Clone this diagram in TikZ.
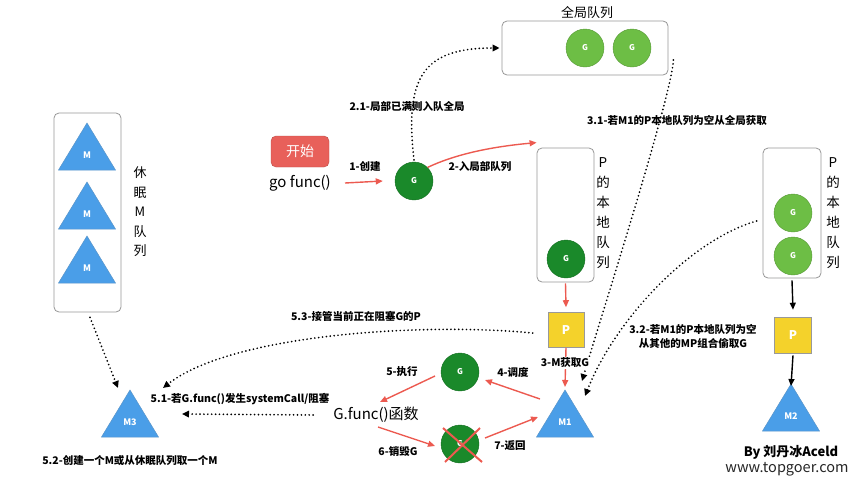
\documentclass[tikz,border=0pt]{standalone}
\usepackage{fontspec}
\setmainfont{Noto Sans CJK SC}
\usetikzlibrary{arrows.meta,calc}
\definecolor{dkgreen}{RGB}{26,137,42}
\definecolor{ltgreen}{RGB}{109,190,69}
\definecolor{triblue}{RGB}{74,158,232}
\definecolor{startred}{RGB}{232,96,90}
\definecolor{arrred}{RGB}{236,90,80}
\definecolor{pyellow}{RGB}{244,210,43}
\definecolor{boxgray}{RGB}{150,150,150}
\newcommand\mtri[4]{%
  \fill[triblue,draw=triblue!70!gray,line width=0.5pt] (#2-28.5,#3+47) -- (#2,#3) -- (#2+28.5,#3+47) -- cycle;
  \node[mlabel] (#1) at (#2,#3+32) {#4};}
\begin{document}
\begin{tikzpicture}[x=1pt,y=-1pt,
  qbox/.style={draw=boxgray,line width=0.8pt,rounded corners=5pt,inner sep=0pt},
  gdark/.style={circle,fill=dkgreen,draw=dkgreen!80!black,line width=0.4pt,minimum size=38pt,inner sep=0pt,text=white,font=\fontsize{8}{9}\selectfont\bfseries},
  glight/.style={gdark,fill=ltgreen,draw=ltgreen!80!black},
  pbox/.style={rectangle,fill=pyellow,draw=gray!80,line width=0.6pt,minimum width=36pt,minimum height=35pt,inner sep=0pt,text=white,font=\fontsize{12}{13}\selectfont\bfseries},
  mlabel/.style={text=white,font=\fontsize{9}{10}\selectfont\bfseries,inner sep=0pt},
  lbl/.style={font=\fontsize{10.5}{12.5}\selectfont\bfseries,inner sep=1pt,align=center},
  vtext/.style={align=center,font=\fontsize{13.5}{20}\selectfont,inner sep=0pt},
  redarrow/.style={draw=arrred,line width=1.4pt,-{Triangle[length=7pt,width=6pt]}},
  blkarrow/.style={draw=black,line width=1.4pt,-{Triangle[length=7pt,width=6pt]}},
  dotarrow/.style={draw=black,line width=1.9pt,dash pattern=on 0pt off 3.9pt,line cap=round,-{Triangle[length=7pt,width=6.5pt]}},
]
\useasboundingbox (0,0) rectangle (863,496);

% sleeping M queue
\node[qbox,minimum width=67pt,minimum height=199pt] (sleepq) at (87.5,212.5) {};
\mtri{mq1}{87}{123}{M}
\mtri{mq2}{87}{182}{M}
\mtri{mq3}{87}{236}{M}
\node[vtext,font=\fontsize{13}{19.5}\selectfont] (sleeplbl) at (140,212) {休\\眠\\M\\队\\列};

% start
\node[rectangle,rounded corners=5pt,fill=startred,draw=startred!80!black,line width=0.4pt,minimum width=58pt,minimum height=31pt,text=white,font=\fontsize{14}{15}\selectfont] (start) at (300,151.5) {开始};
\node[font=\fontsize{15}{16}\selectfont,inner sep=0pt] (gofunc) at (300,183) {go func()};

% G created
\node[gdark] (g0) at (414,181) {G};

% global queue
\node[qbox,minimum width=166pt,minimum height=54pt] (gq) at (585,48) {};
\node[font=\fontsize{13}{14}\selectfont,inner sep=0pt] (gqlbl) at (587,13) {全局队列};
\node[glight] (gg1) at (585,48) {G};
\node[glight] (gg2) at (632,48) {G};

% local queue 1
\node[qbox,minimum width=57pt,minimum height=134pt] (pbox1) at (565.5,215) {};
\node[vtext] (p1lbl) at (603,213) {P\\的\\本\\地\\队\\列};
\node[gdark] (gl) at (566,259) {G};
\node[pbox] (p1) at (566,330) {P};

% local queue 2
\node[qbox,minimum width=58pt,minimum height=130pt] (pbox2) at (792,213) {};
\node[vtext] (p2lbl) at (833,213) {P\\的\\本\\地\\队\\列};
\node[glight] (gr1) at (793,213) {G};
\node[glight] (gr2) at (793,256) {G};
\node[pbox,minimum width=37pt,minimum height=36pt] (p2) at (793,335) {P};

% Ms
\mtri{m1}{565}{390}{M1}
\mtri{m2}{791}{384}{M2}
\mtri{m3}{130}{390}{M3}

% G running / destroyed
\node[gdark] (gx) at (460,372) {G};
\node[gdark] (gd) at (460,444) {G};
\draw[arrred,line width=2pt] (443,428) -- (482,462) (480,428) -- (445,462);
\node[font=\fontsize{15}{16}\selectfont,inner sep=0pt] (gfunc) at (376,415) {G.func()函数};

% arrows
\draw[redarrow] ([xshift=14pt]gofunc.east) -- ([xshift=-12pt]g0.west);
\node[lbl] (l1) at (365,166) {1-创建};
\draw[redarrow] (g0.45) .. controls (460,152) and (500,146) .. ([yshift=5pt]pbox1.north west);
\node[lbl] (l2) at (480,167) {2-入局部队列};
\draw[dotarrow] ([yshift=2pt]g0.north) .. controls (404,75) and (425,48) .. ([xshift=-2pt]gq.west);
\node[lbl] (l21) at (407,106) {2.1-局部已满则入队全局};

\draw[dotarrow] ([xshift=5pt,yshift=-12pt]gq.east) .. controls (672,95) and (600,320) .. ($(m1)+(17,-41)$);
\node[lbl] (l31) at (677,121) {3.1-若M1的P本地队列为空从全局获取};
\draw[dotarrow] ([xshift=-6pt,yshift=-8pt]pbox2.west) .. controls (690,240) and (615,320) .. ($(m1)+(20,-26)$);
\node[lbl,font=\fontsize{10.5}{14}\selectfont\bfseries] (l32) at (693,336) {3.2-若M1的P本地队列为空\\从其他的MP组合偷取G};

\draw[redarrow] ([yshift=-1pt]pbox1.south) -- ([yshift=5pt]p1.north);
\draw[redarrow] (p1.south) -- ($(m1)+(0,-35)$);
\node[lbl,fill=white] (l3) at (565,363) {3-M获取G};

\draw[blkarrow] ([yshift=-2pt]pbox2.south) -- ([yshift=7pt]p2.north);
\draw[blkarrow] ([yshift=-2pt]p2.south) -- ($(m2)+(0,-30)$);

\draw[redarrow] ($(m1)+(-25,-23)$) -- ($(gx)+(25,8)$);
\node[lbl] (l4) at (513,372) {4-调度};
\draw[redarrow] ($(gx)+(-25,4)$) -- ($(gfunc)+(4,-13)$);
\node[lbl] (l5) at (402,372) {5-执行};
\draw[redarrow] ($(gfunc)+(2,12)$) -- ($(gd)+(-25,2)$);
\node[lbl] (l6) at (398,451) {6-销毁G};
\draw[redarrow] ($(gd)+(25,-6)$) -- ($(m1)+(-27,-5)$);
\node[lbl] (l7) at (510,446) {7-返回};

\draw[dotarrow] ([xshift=-15pt,yshift=-3pt]p1.west) .. controls (420,322) and (230,335) .. ($(m3)+(33,-34)$);
\node[lbl] (l53) at (356,316) {5.3-接管当前正在阻塞G的P};
\draw[dotarrow] ([xshift=-20pt]gfunc.west) -- ($(m3)+(52,-8)$);
\node[lbl] (l51) at (240,399) {5.1-若G.func()发生systemCall/阻塞};
\draw[dotarrow] ([xshift=2.5pt,yshift=-5pt]sleepq.south) -- ($(m3)+(-12,-34)$);
\node[lbl] (l52) at (130,461) {5.2-创建一个M或从休眠队列取一个M};

% credits
\node[font=\fontsize{13}{14}\selectfont\bfseries,inner sep=0pt] (by) at (791,452) {By 刘丹冰Aceld};
\node[font=\fontsize{14.5}{15}\selectfont,inner sep=0pt,text=black!85] (www) at (787,469) {www.topgoer.com};
\end{tikzpicture}
\end{document}
